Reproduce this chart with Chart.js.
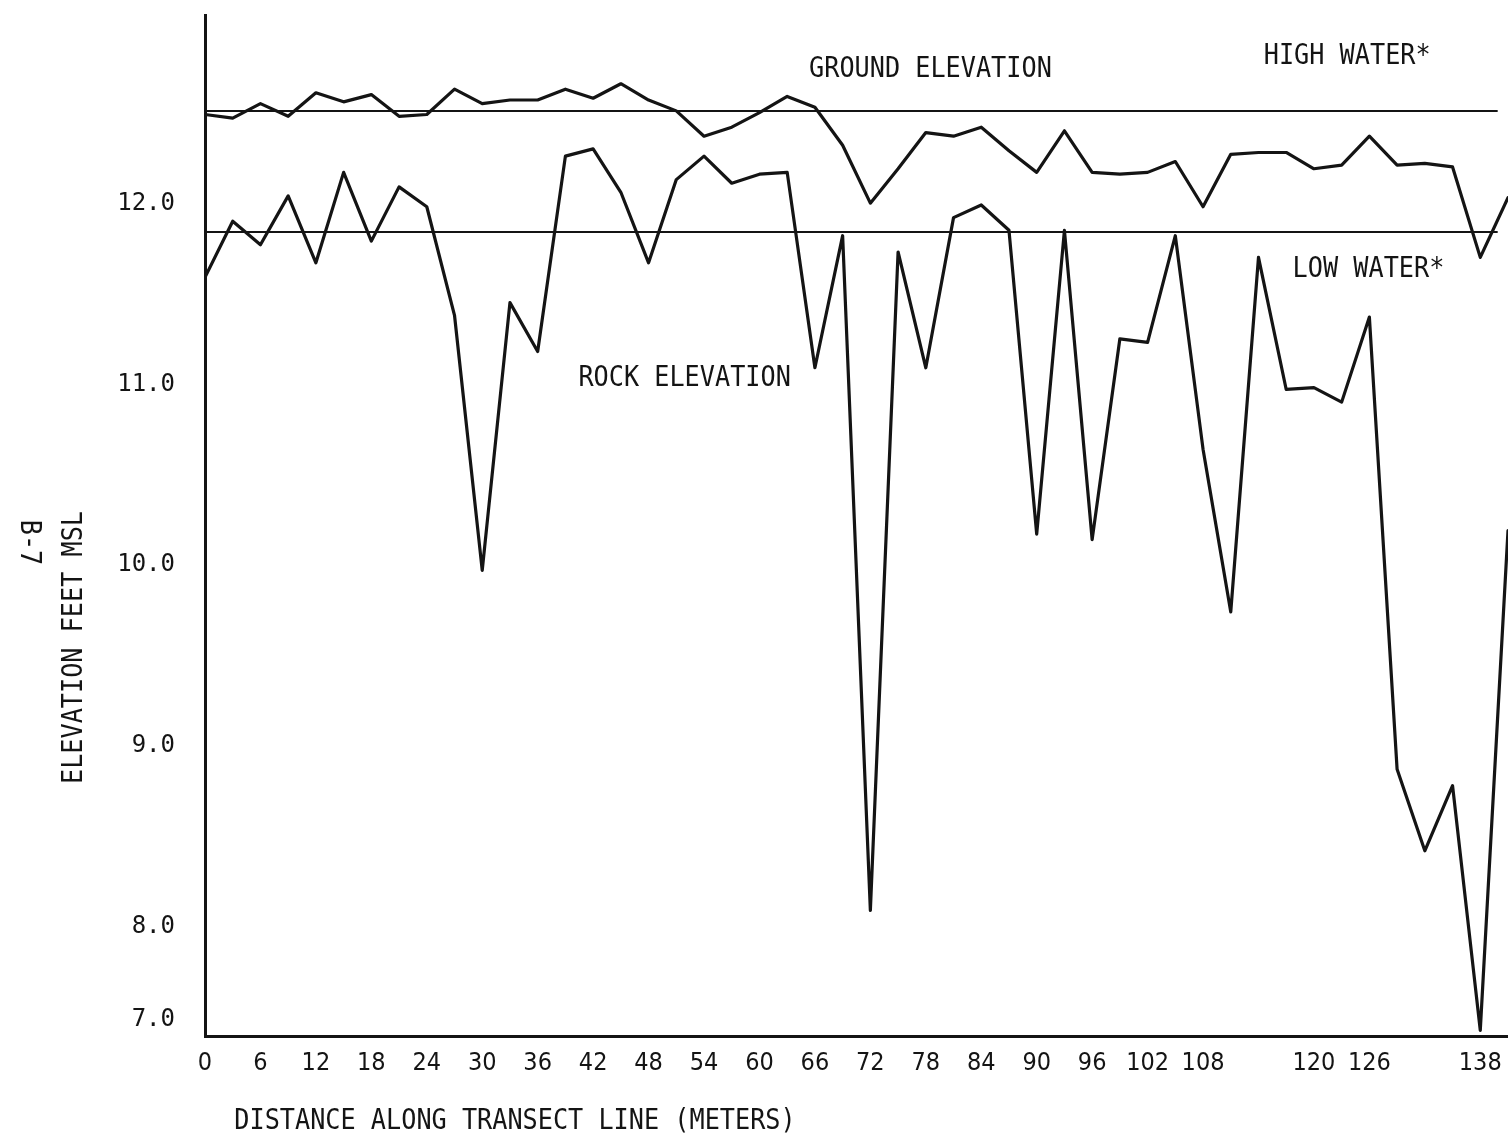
<!DOCTYPE html>
<html>
<head>
<meta charset="utf-8">
<title>Transect B-7</title>
<script src="https://cdn.jsdelivr.net/npm/chart.js@4.4.1/dist/chart.umd.min.js"></script>
<style>
  html, body { margin: 0; padding: 0; background: #fff; overflow: hidden; }
  canvas { display: block; }
</style>
</head>
<body>
<canvas id="transectChart" width="1508" height="1138"></canvas>
<script>
/* === DATA === */
const distance = [0, 3, 6, 9, 12, 15, 18, 21, 24, 27, 30, 33, 36, 39, 42, 45, 48, 51, 54, 57, 60, 63, 66, 69,
                  72, 75, 78, 81, 84, 87, 90, 93, 96, 99, 102, 105, 108, 111, 114, 117, 120, 123, 126, 129, 132, 135, 138, 141];
const groundElevation = [12.58, 12.56, 12.64, 12.57, 12.70, 12.65, 12.69, 12.57, 12.58, 12.72, 12.64, 12.66, 12.66, 12.72, 12.67, 12.75,
                         12.66, 12.60, 12.46, 12.51, 12.59, 12.68, 12.62, 12.41, 12.09, 12.28, 12.48, 12.46, 12.51, 12.38, 12.26, 12.49,
                         12.26, 12.25, 12.26, 12.32, 12.07, 12.36, 12.37, 12.37, 12.28, 12.30, 12.46, 12.30, 12.31, 12.29, 11.79, 12.12];
const rockElevation = [11.68, 11.99, 11.86, 12.13, 11.76, 12.26, 11.88, 12.18, 12.07, 11.47, 10.06, 11.54, 11.27, 12.35, 12.39, 12.15,
                       11.76, 12.22, 12.35, 12.20, 12.25, 12.26, 11.18, 11.91, 8.18, 11.82, 11.18, 12.01, 12.08, 11.94, 10.26, 11.94,
                       10.23, 11.34, 11.32, 11.91, 10.73, 9.83, 11.79, 11.06, 11.07, 10.99, 11.46, 8.96, 8.51, 8.87, 7.06, 10.28];
const highWater = 12.60;
const lowWater = 11.93;
const waterLineStart = 0;
const waterLineEnd = 139.8;
const xTicks = [0, 6, 12, 18, 24, 30, 36, 42, 48, 54, 60, 66, 72, 78, 84, 90, 96, 102, 108, 120, 126, 138];
const yTicks = [7, 8, 9, 10, 11, 12];

const INK = '#141414';
const TYPE = "'DejaVu Sans Mono', 'Liberation Mono', monospace";

/* === Y SCALE: the drawing squeezes everything below 8.0 ft to about half === */
const BREAK = 8, SQUEEZE = 0.514;
const warp = v => v >= BREAK ? v : BREAK - (BREAK - v) * SQUEEZE;
const unwarp = w => w >= BREAK ? w : BREAK - (BREAK - w) / SQUEEZE;

class SqueezedScale extends Chart.LinearScale {
    getPixelForValue(value) {
        if (value === null || value === undefined || isNaN(value)) return NaN;
        const lo = warp(this.min), hi = warp(this.max);
        return this.getPixelForDecimal((warp(value) - lo) / (hi - lo));
    }
    getValueForPixel(pixel) {
        const lo = warp(this.min), hi = warp(this.max);
        return unwarp(lo + this.getDecimalForPixel(pixel) * (hi - lo));
    }
}
SqueezedScale.id = 'squeezed';
SqueezedScale.defaults = Chart.LinearScale.defaults;
Chart.register(SqueezedScale);

/* === TYPEWRITTEN LABELS === */
const typeText = (ctx, text, x, y, rotation) => {
    ctx.save();
    ctx.translate(x, y);
    ctx.rotate(rotation || 0);
    ctx.scale(0.9, 1);
    ctx.font = `28px ${TYPE}`;
    ctx.fillStyle = INK;
    ctx.textAlign = 'center';
    ctx.textBaseline = 'middle';
    ctx.fillText(text, 0, 0);
    ctx.restore();
};

const labelPlugin = {
    id: 'typewriterLabels',
    afterDraw(chart) {
        const { ctx, chartArea, scales: { x, y } } = chart;
        const at = (text, dx, dy) => typeText(ctx, text, x.getPixelForValue(dx), y.getPixelForValue(dy));
        at('GROUND ELEVATION', 78.5, 12.83);
        at('HIGH WATER*', 123.6, 12.90);
        at('LOW WATER*', 125.9, 11.72);
        at('ROCK ELEVATION', 51.9, 11.12);
        typeText(ctx, 'DISTANCE ALONG TRANSECT LINE (METERS)', chartArea.left + 310, chartArea.bottom + 86);
        typeText(ctx, 'ELEVATION FEET MSL', chartArea.left - 130, (chartArea.top + chartArea.bottom) / 2 + 122, -Math.PI / 2);
        typeText(ctx, 'B-7', chartArea.left - 177, (chartArea.top + chartArea.bottom) / 2 + 17, Math.PI / 2);
    }
};

const series = (values) => distance.map((d, i) => ({ x: d, y: values[i] }));
const level = (v) => [{ x: waterLineStart, y: v }, { x: waterLineEnd, y: v }];

new Chart(document.getElementById('transectChart'), {
    type: 'line',
    data: {
        datasets: [
            { label: 'Ground elevation', data: series(groundElevation), borderWidth: 3.2 },
            { label: 'Rock elevation', data: series(rockElevation), borderWidth: 3.2 },
            { label: 'High water', data: level(highWater), borderWidth: 2 },
            { label: 'Low water', data: level(lowWater), borderWidth: 2 }
        ]
    },
    options: {
        responsive: false,
        animation: false,
        devicePixelRatio: 1,
        layout: { padding: { top: 15, right: 0, bottom: 0, left: 0 } },
        elements: {
            line: { borderColor: INK, tension: 0, borderJoinStyle: 'round', borderCapStyle: 'round', fill: false },
            point: { radius: 0, hoverRadius: 0 }
        },
        plugins: { legend: { display: false }, tooltip: { enabled: false } },
        scales: {
            x: {
                type: 'linear',
                min: 0,
                max: 141,
                afterFit: (scale) => {
                    scale.height = 102;
                    scale.paddingLeft = 0;
                    scale.paddingRight = 0;
                },
                afterBuildTicks: (scale) => { scale.ticks = xTicks.map(v => ({ value: v })); },
                grid: { display: false, drawTicks: false },
                border: { display: true, color: INK, width: 3 },
                ticks: {
                    autoSkip: false, maxRotation: 0, padding: 12,
                    color: INK,
                    font: { family: "'DejaVu Sans Condensed', 'DejaVu Sans Mono', sans-serif", size: 25 },
                    callback: (v) => String(v)
                }
            },
            y: {
                type: 'squeezed',
                min: 7,
                max: 13.13,
                afterFit: (scale) => {
                    scale.width = 205;
                    scale.paddingTop = 0;
                    scale.paddingBottom = 0;
                },
                afterBuildTicks: (scale) => { scale.ticks = yTicks.map(v => ({ value: v })); },
                grid: { display: false, drawTicks: false },
                border: { display: true, color: INK, width: 3 },
                ticks: {
                    padding: 30, labelOffset: -16,
                    color: INK,
                    font: { family: TYPE, size: 24 },
                    callback: (v) => Number(v).toFixed(1)
                }
            }
        }
    },
    plugins: [labelPlugin]
});
</script>
</body>
</html>
